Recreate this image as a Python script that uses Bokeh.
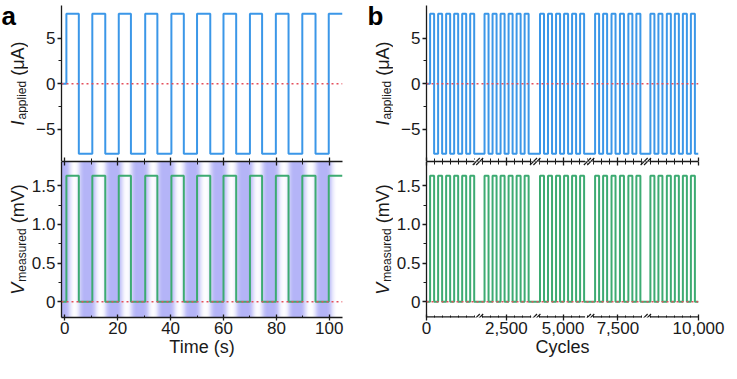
import math
import numpy as np
from bokeh.plotting import figure
from bokeh.layouts import row, column
from bokeh.models import (Range1d, FixedTicker, LinearAxis, Span, Arrow,
                          ColumnDataSource, LinearColorMapper, CustomLabelingPolicy)
from bokeh.core.properties import value
from bokeh.embed import file_html
from bokeh.resources import INLINE

FONT = "Liberation Sans"
INK = "#1a1a1a"
BLUE = "#3b97e8"
GREEN = "#3dab72"
RED = "#e4505c"

# ---------------- data ----------------
# Panel a: square-wave transition times (s)
a_rise = [0.6, 10.4, 20.4, 30.4, 40.3, 50.0, 60.0, 70.0, 79.8, 89.8, 99.8]
a_fall = [5.3, 15.3, 25.0, 35.0, 45.0, 55.0, 64.8, 74.6, 84.6, 94.8]
a_time_range = [-1.25, 105.0]
a_time_ticks = [0, 20, 40, 60, 80, 100]
a_time_minor = [10, 30, 50, 70, 90]

i_levels = [0.0, 7.7, -7.7]     # start, high, low (uA)
v_levels = [0.0, 1.63, 0.0]     # start, high, low (mV)
i_range = [-8.55, 8.6]
v_range = [-0.205, 1.815]
i_ticks = [-5, 0, 5]
i_tick_labels = ["\u22125", "0", "5"]
i_minor = [-2.5, 2.5]
v_ticks = [0, 0.5, 1.0, 1.5]
v_tick_labels = ["0", "0.5", "1.0", "1.5"]
v_minor = [0.25, 0.75, 1.25]

# Panel b: broken cycle axis, five visible windows (cycles)
b_win_start = [0.0, 2496.46, 4996.52, 7496.40, 9993.43]
b_win_end = [6.42, 2503.60, 5003.24, 7503.48, 10000.0]
b_rise = [
    [0.45, 1.45, 2.45, 3.45, 4.45, 5.45],
    [2497.28, 2498.28, 2499.28, 2500.28, 2501.28, 2502.28],
    [4997.12, 4998.12, 4999.12, 5000.12, 5001.12, 5002.12],
    [7497.15, 7498.15, 7499.20, 7500.25, 7501.30, 7502.30],
    [9994.00, 9995.00, 9996.05, 9997.05, 9998.05, 9999.05],
]
b_fall = [
    [0.95, 1.95, 2.95, 3.95, 4.95, 5.95],
    [2497.78, 2498.78, 2499.78, 2500.78, 2501.78, 2502.78],
    [4997.62, 4998.62, 4999.62, 5000.62, 5001.62, 5002.62],
    [7497.65, 7498.65, 7499.70, 7500.75, 7501.80, 7502.80],
    [9994.50, 9995.50, 9996.55, 9997.55, 9998.55, 9999.55],
]
b_tick_cycles = [0, 2500, 5000, 7500, 10000]
b_tick_labels = ["0", "2,500", "5,000", "7,500", "10,000"]

# ---------------- helpers ----------------
def step_path(rises, falls, x0, x1, levels):
    start, hi, lo = levels
    events = sorted([(r, hi) for r in rises] + [(f, lo) for f in falls])
    xs, ys, cur = [x0], [start], start
    for x, lvl in events:
        xs += [x, x]
        ys += [cur, lvl]
        cur = lvl
    xs.append(x1)
    ys.append(cur)
    return xs, ys

win_off = [0.0]
for s, e in zip(b_win_start, b_win_end):
    win_off.append(win_off[-1] + (e - s))
b_total = win_off[-1]

def disp(c):
    for k, (s, e) in enumerate(zip(b_win_start, b_win_end)):
        if s - 1e-9 <= c <= e + 1e-9:
            return round(win_off[k] + (c - s), 4)
    raise ValueError(c)

# layout (px)
FH = 156
BT, BB = 5, 46
H_TOP, H_BOT = BT + FH, FH + BB
SW_A, SW_B = 28, 28                   # label strips
FW_A, BL_A, BR_A = 281, 30, 23
FW_B, BL_B, BR_B = 272, 30, 29
LBL_BASE = 17                         # baseline of rotated y-labels inside strip

NO_LABELS = CustomLabelingPolicy(code="""
const keep = [];
for (const i of indices) keep.push(i);
for (const i of keep) indices.unset(i);
return indices;
""")

def make_fig(xr, yr, fw, bl, br, bt, bb):
    p = figure(x_range=xr, y_range=yr, frame_width=fw, frame_height=FH,
               min_border_left=bl, min_border_right=br, min_border_top=bt,
               min_border_bottom=bb, output_backend="svg", toolbar_location=None,
               x_axis_location=None, y_axis_location=None)
    p.outline_line_color = None
    for g in p.grid:
        g.visible = False
    p.background_fill_color = "white"
    p.border_fill_color = "white"
    return p

def style_axis(ax, labels, tin, tout, mtin, mtout):
    ax.axis_line_color = INK
    ax.axis_line_width = 1.3
    ax.major_tick_line_color = INK
    ax.minor_tick_line_color = INK
    ax.major_tick_line_width = 1.3
    ax.minor_tick_line_width = 1.0
    ax.major_tick_in = tin
    ax.major_tick_out = tout
    ax.minor_tick_in = mtin
    ax.minor_tick_out = mtout
    if labels:
        ax.major_label_text_font = FONT
        ax.major_label_text_font_size = "17px"
        ax.major_label_text_color = INK
        ax.major_label_standoff = 2
    else:
        ax.major_label_text_font_size = "0px"
        ax.major_label_standoff = 0
        ax.major_label_policy = NO_LABELS
    return ax

def left_axis(p, ticks, labels, minor):
    ax = LinearAxis(ticker=FixedTicker(ticks=ticks, minor_ticks=minor),
                    major_label_overrides={t: l for t, l in zip(ticks, labels)})
    style_axis(ax, True, 0, 4, 0, 3)
    p.add_layout(ax, "left")

def x_axis(p, where, ticks, minor, labels=None, title=None, tin=4, tout=0, mtin=3, mtout=0):
    ax = LinearAxis(ticker=FixedTicker(ticks=ticks, minor_ticks=minor))
    if labels is not None:
        ax.major_label_overrides = {t: l for t, l in zip(ticks, labels)}
        style_axis(ax, True, tin, tout, mtin, mtout)
        ax.major_label_standoff = 1
    else:
        style_axis(ax, False, tin, tout, mtin, mtout)
    if title:
        ax.axis_label = title
        ax.axis_label_text_font = FONT
        ax.axis_label_text_font_size = "18px"
        ax.axis_label_text_font_style = "normal"
        ax.axis_label_text_color = INK
        ax.axis_label_standoff = 0
    p.add_layout(ax, where)
    return ax

def zero_line(p):
    p.add_layout(Span(location=0, dimension="width", line_color=RED,
                      line_dash="2 3", line_width=1.5))

def label_strip(width, height, center_y, main, sub, unit, ems, letter=None, letter_x=0):
    s = figure(x_range=Range1d(0, width), y_range=Range1d(0, height),
               frame_width=width, frame_height=height, min_border=0,
               output_backend="svg", toolbar_location=None,
               x_axis_location=None, y_axis_location=None)
    s.outline_line_color = None
    for g in s.grid:
        g.visible = False
    S_MAIN, S_SUB, S_UNIT = 18, 12, 18
    w_main = ems[0] * S_MAIN + 1
    w_sub = ems[1] * S_SUB
    w_gap = 0.278 * S_UNIT
    w_unit = ems[2] * S_UNIT
    y0 = center_y - (w_main + w_sub + w_gap + w_unit) / 2
    common = dict(angle=math.pi / 2, text_align="left", text_baseline="alphabetic",
                  text_font=value(FONT), text_color=INK)
    s.text(x=[LBL_BASE], y=[y0], text=[main], text_font_style="italic",
           text_font_size=value(f"{S_MAIN}px"), **common)
    s.text(x=[LBL_BASE + 4], y=[y0 + w_main], text=[sub],
           text_font_size=value(f"{S_SUB}px"), **common)
    s.text(x=[LBL_BASE], y=[y0 + w_main + w_sub + w_gap], text=[unit],
           text_font_size=value(f"{S_UNIT}px"), **common)
    if letter:
        s.text(x=[letter_x], y=[height], text=[letter], text_font=value(FONT),
               text_font_style="bold", text_font_size=value("26px"),
               text_align="left", text_baseline="top", text_color="black")
    return s

I_EMS = (0.278, 3.224, 1.909)
V_EMS = (0.667, 4.446, 2.166)

# ---------------- panel a ----------------
xa = Range1d(*a_time_range)
a_top = make_fig(xa, Range1d(*i_range), FW_A, BL_A, BR_A, BT, 0)
a_bot = make_fig(xa, Range1d(*v_range), FW_A, BL_A, BR_A, 0, BB)

# background shading of the V panel (derived from the drive waveform)
t = np.linspace(a_time_range[0], a_time_range[1], 1064)
white = np.zeros_like(t)
for k, r in enumerate(a_rise):
    f = a_fall[k] if k < len(a_fall) else a_time_range[1] + 5
    white[(t > r + 1.2) & (t < f + 0.2)] = 1.0
dt = t[1] - t[0]
sig = 0.9 / dt
kx = np.arange(-int(4 * sig), int(4 * sig) + 1)
ker = np.exp(-0.5 * (kx / sig) ** 2)
ker /= ker.sum()
blur = np.convolve(np.pad(white, len(kx) // 2, mode="edge"), ker, mode="valid")
shade = (1.0 - blur).reshape(1, -1)
lav = (180, 180, 247)
pal = ["#%02x%02x%02x" % tuple(int(round(255 + (c - 255) * i / 63)) for c in lav) for i in range(64)]
a_bot.image(image=[shade], x=a_time_range[0], y=v_range[0],
            dw=a_time_range[1] - a_time_range[0], dh=v_range[1] - v_range[0],
            color_mapper=LinearColorMapper(palette=pal, low=0, high=1))

xs, ys = step_path(a_rise, a_fall, a_time_range[0], a_time_range[1], i_levels)
a_top.line(xs, ys, line_color=BLUE, line_width=2)
xs, ys = step_path(a_rise, a_fall, a_time_range[0], a_time_range[1], v_levels)
a_bot.line(xs, ys, line_color=GREEN, line_width=2)
zero_line(a_top)
zero_line(a_bot)

left_axis(a_top, i_ticks, i_tick_labels, i_minor)
left_axis(a_bot, v_ticks, v_tick_labels, v_minor)
x_axis(a_top, "below", a_time_ticks, a_time_minor)
x_axis(a_bot, "above", a_time_ticks, a_time_minor)
x_axis(a_bot, "below", a_time_ticks, a_time_minor, [str(v) for v in a_time_ticks],
       "Time (s)", tin=3, tout=3, mtin=2, mtout=0)

sa_top = label_strip(SW_A, H_TOP, H_TOP - BT - FH / 2, "I", "applied", "(\u03bcA)", I_EMS, "a", 1)
sa_bot = label_strip(SW_A, H_BOT, H_BOT - FH / 2, "V", "measured", "(mV)", V_EMS)

# ---------------- panel b ----------------
b_major = [disp(c) for c in b_tick_cycles]
xb = Range1d(0, b_major[-1] + 1e-6)
b_top = make_fig(xb, Range1d(*i_range), FW_B, BL_B, BR_B, BT, 0)
b_bot = make_fig(xb, Range1d(*v_range), FW_B, BL_B, BR_B, 0, BB)

rises = [r for seg in b_rise for r in seg]
falls = [f for seg in b_fall for f in seg]
xs, ys = step_path(rises, falls, b_win_start[0], b_win_end[-1], i_levels)
b_top.line([disp(x) for x in xs], ys, line_color=BLUE, line_width=2)
xs, ys = step_path(rises, falls, b_win_start[0], b_win_end[-1], v_levels)
b_bot.line([disp(x) for x in xs], ys, line_color=GREEN, line_width=2)
zero_line(b_top)
zero_line(b_bot)

b_minor = []
for s, e in zip(b_win_start, b_win_end):
    for c in range(int(math.ceil(s)), int(math.floor(e)) + 1):
        if c not in b_tick_cycles:
            b_minor.append(disp(c))

left_axis(b_top, i_ticks, i_tick_labels, i_minor)
left_axis(b_bot, v_ticks, v_tick_labels, v_minor)
x_axis(b_top, "below", b_major, b_minor)
x_axis(b_bot, "above", b_major, b_minor)
bx_axis = x_axis(b_bot, "below", b_major, b_minor, b_tick_labels, "Cycles",
                 tin=3, tout=3, mtin=2, mtout=0)
bx_axis.axis_line_color = None

sb_top = label_strip(SW_B, H_TOP, H_TOP - BT - FH / 2, "I", "applied", "(\u03bcA)", I_EMS, "b", 2)
sb_bot = label_strip(SW_B, H_BOT, H_BOT - FH / 2, "V", "measured", "(mV)", V_EMS)

# broken-axis marks between the windows
ux = b_total / FW_B
bx = win_off[1:-1]

def slashes(p, y_edge, y_span, mask=True):
    uy = (y_span[1] - y_span[0]) / FH
    if mask:
        gap = ColumnDataSource(dict(x0=[b - 4 * ux for b in bx], x1=[b + 4 * ux for b in bx],
                                    y0=[y_edge] * len(bx), y1=[y_edge] * len(bx)))
        p.add_layout(Arrow(start=None, end=None, source=gap, x_start="x0", y_start="y0",
                           x_end="x1", y_end="y1", line_color="white", line_width=4))
    sx0, sx1, sy0, sy1 = [], [], [], []
    for b in bx:
        for d in (-1.7, 1.7):
            sx0.append(b + (d - 3.5) * ux)
            sx1.append(b + (d + 3.5) * ux)
            sy0.append(y_edge - 3.5 * uy)
            sy1.append(y_edge + 3.5 * uy)
    sl = ColumnDataSource(dict(x0=sx0, x1=sx1, y0=sy0, y1=sy1))
    p.add_layout(Arrow(start=None, end=None, source=sl, x_start="x0", y_start="y0",
                       x_end="x1", y_end="y1", line_color=INK, line_width=1.2))

slashes(b_top, i_range[0], i_range)
slashes(b_bot, v_range[1], v_range)
# bottom axis line of panel b drawn window by window, leaving gaps at the breaks
seg_x = [[win_off[k] + (4 * ux if k > 0 else 0), win_off[k + 1] - (4 * ux if k < 4 else 0)]
         for k in range(5)]
b_bot.multi_line(xs=seg_x, ys=[[v_range[0], v_range[0]]] * 5, line_color=INK, line_width=2.6)
slashes(b_bot, v_range[0], v_range, mask=False)

layout = row(column(sa_top, sa_bot), column(a_top, a_bot),
             column(sb_top, sb_bot), column(b_top, b_bot))
open("out.html", "w").write(file_html(layout, INLINE))
